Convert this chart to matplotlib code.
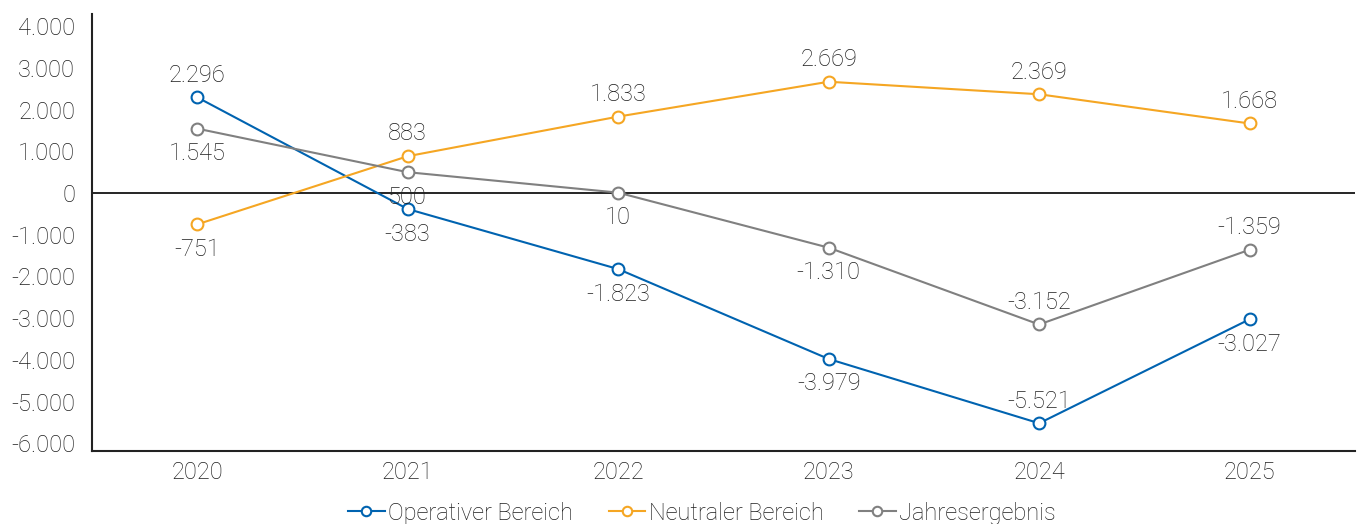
import matplotlib
matplotlib.use("Agg")
import matplotlib.pyplot as plt
from matplotlib.ticker import FuncFormatter

plt.rcParams['font.family'] = ['Roboto', 'DejaVu Sans']
plt.rcParams['font.weight'] = 'light'

years = ['2020', '2021', '2022', '2023', '2024', '2025']
operativ = [2296, -383, -1823, -3979, -5521, -3027]
neutral = [-751, 883, 1833, 2669, 2369, 1668]
jahres = [1545, 500, 10, -1310, -3152, -1359]

# label position: 1 = above, -1 = below
pos_operativ = [1, -1, -1, -1, 1, -1]
pos_neutral = [-1, 1, 1, 1, 1, 1]
pos_jahres = [-1, -1, -1, -1, 1, 1]

series = [
    ('Operativer Bereich', operativ, pos_operativ, '#0063b0'),
    ('Neutraler Bereich', neutral, pos_neutral, '#f5a623'),
    ('Jahresergebnis', jahres, pos_jahres, '#808080'),
]

txt = '#1e1e1e'

def fmt(v):
    return f'{v:,.0f}'.replace(',', '.')

fig = plt.figure(figsize=(13.58, 5.24), dpi=100)
ax = fig.add_axes([0.0677, 0.139, 0.930, 0.834])

x = list(range(len(years)))
for name, vals, pos, col in series:
    ax.plot(x, vals, color=col, lw=1.5, marker='o', ms=8.5, mfc='white',
            mec=col, mew=1.5, label=name, zorder=3)
    for xi, v, p in zip(x, vals, pos):
        ax.annotate(fmt(v), (xi, v), xytext=(0, 16 if p > 0 else -18),
                    textcoords='offset points', ha='center', va='center',
                    fontsize=17, color=txt)

ax.axhline(0, color='black', lw=1.2, zorder=2)
ax.set_xlim(-0.5, 5.5)
ax.set_ylim(-6190, 4290)
ax.set_yticks(range(-6000, 4001, 1000))
ax.yaxis.set_major_formatter(FuncFormatter(lambda v, p: fmt(v)))
ax.set_xticks(x)
ax.set_xticklabels(years)
ax.tick_params(length=0, labelsize=17, labelcolor=txt, pad=7)
ax.tick_params(axis='y', pad=12)
for s in ['top', 'right']:
    ax.spines[s].set_visible(False)
for s in ['left', 'bottom']:
    ax.spines[s].set_color('#222222')
    ax.spines[s].set_linewidth(1.5)

leg = fig.legend(loc='lower center', ncol=3, frameon=False, fontsize=17,
                 bbox_to_anchor=(0.517, -0.042), handlelength=1.55, handletextpad=0.15,
                 columnspacing=1.5, labelcolor=txt, markerscale=0.8)

fig.savefig('out.png', dpi=100)
